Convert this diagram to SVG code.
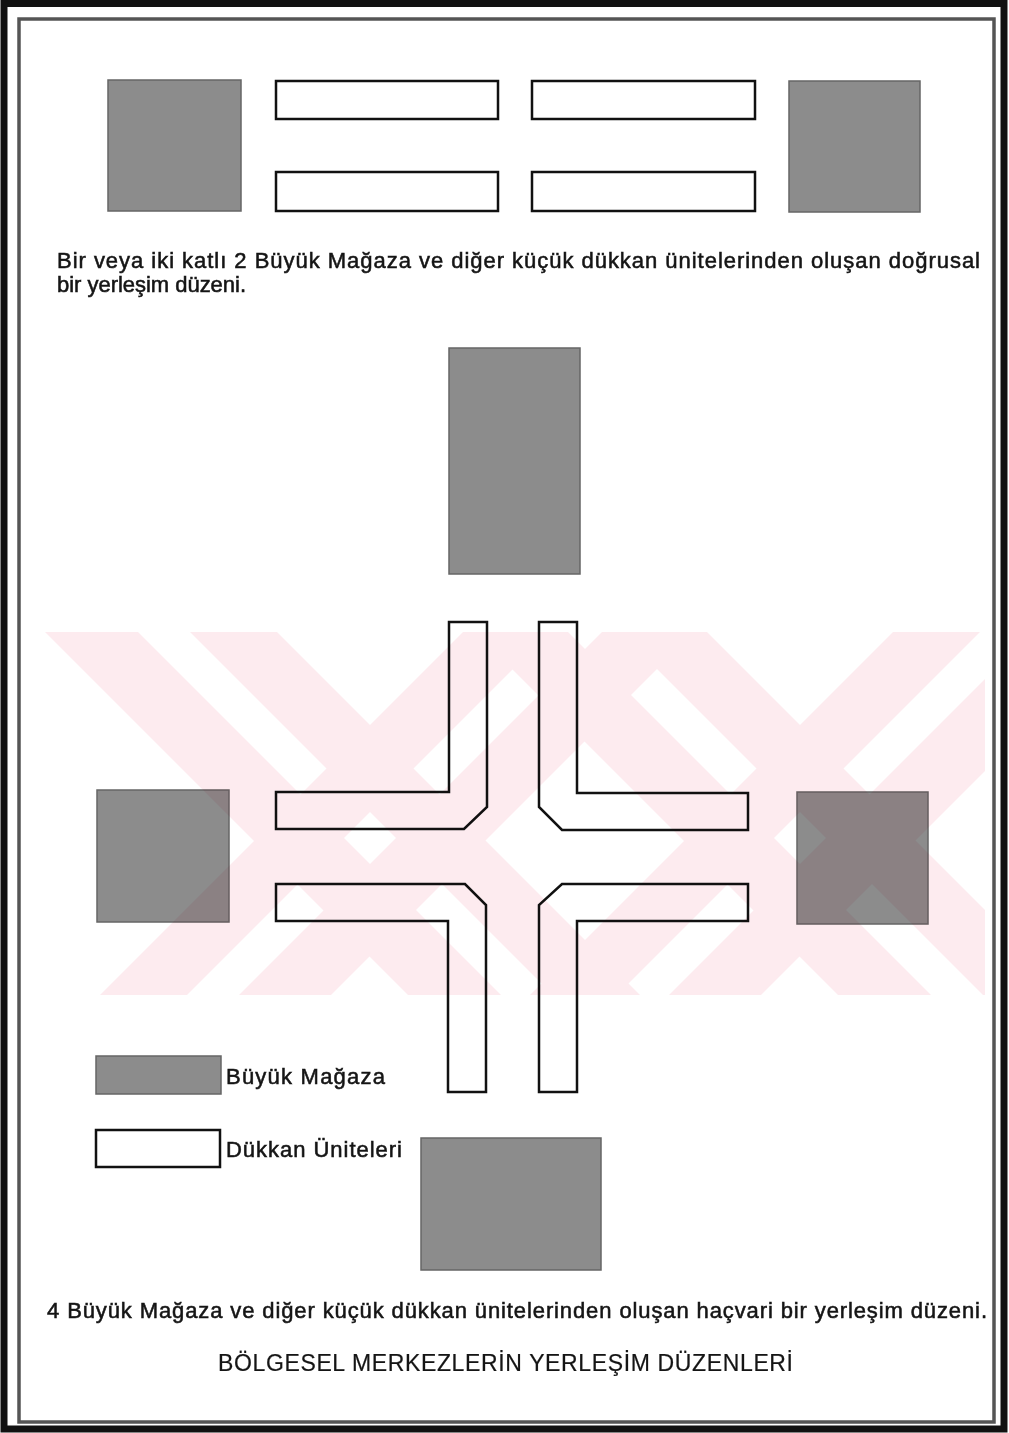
<svg xmlns="http://www.w3.org/2000/svg" width="1009" height="1433" viewBox="0 0 1009 1433">
<style>
.store{fill:#8c8c8c;stroke:#666;stroke-width:1.5}
.shop{fill:#ffffff;stroke:#111;stroke-width:2.5}
.lshop{fill:none;stroke:#111;stroke-width:2.5;stroke-linejoin:miter}
.txt{font-family:"Liberation Sans",Arial,sans-serif;fill:#151515;font-size:22px;stroke:#151515;stroke-width:0.55}
.title{font-size:23px;stroke-width:0.2}
.wm{fill:#fdebef}
</style>
<defs>
<clipPath id="wmclip"><rect x="45" y="632" width="940" height="363"/></clipPath>
</defs>
<rect x="0" y="0" width="1009" height="1433" fill="#ffffff"/>
<g id="frame">
<rect x="4" y="3.5" width="1000" height="1425.5" fill="none" stroke="#111" stroke-width="7"/>
<rect x="19" y="19" width="975" height="1403" fill="none" stroke="#555" stroke-width="3.5"/>
</g>
<g id="linear-layout">
<rect id="store-top-left" class="store" x="108" y="80" width="133" height="131"/>
<rect id="shop-1" class="shop" x="276" y="81" width="222" height="38"/>
<rect id="shop-2" class="shop" x="276" y="172" width="222" height="39"/>
<rect id="shop-3" class="shop" x="532" y="81" width="223" height="38"/>
<rect id="shop-4" class="shop" x="532" y="172" width="223" height="39"/>
<rect id="store-top-right" class="store" x="789" y="81" width="131" height="131"/>
</g>
<g id="caption-1">
<text class="txt" x="57" y="268" textLength="923" lengthAdjust="spacing">Bir veya iki katlı 2 Büyük Mağaza ve diğer küçük dükkan ünitelerinden oluşan doğrusal</text>
<text class="txt" x="57" y="292" textLength="189" lengthAdjust="spacing">bir yerleşim düzeni.</text>
</g>
<g id="cross-layout">
<rect id="store-north" class="store" x="449" y="348" width="131" height="226"/>
<rect id="store-west" class="store" x="97" y="790" width="132" height="132"/>
<rect id="store-east" class="store" x="797" y="792" width="131" height="132"/>
<rect id="store-south" class="store" x="421" y="1138" width="180" height="132"/>
<polygon id="shop-nw" class="lshop" points="449,622 487,622 487,807 464,829 276,829 276,792 449,792"/>
<polygon id="shop-ne" class="lshop" points="539,622 577,622 577,793 748,793 748,830 562,830 539,807"/>
<polygon id="shop-sw" class="lshop" points="276,884 465,884 486,905 486,1092 448,1092 448,921 276,921"/>
<polygon id="shop-se" class="lshop" points="748,884 562,884 539,905 539,1092 577,1092 577,921 748,921"/>
</g>
<g id="legend">
<rect id="legend-store" class="store" x="96" y="1056" width="125" height="38"/>
<text class="txt" x="226" y="1084" textLength="159" lengthAdjust="spacing">Büyük Mağaza</text>
<rect id="legend-shop" class="shop" x="96" y="1130" width="124" height="37"/>
<text class="txt" x="226" y="1157" textLength="176" lengthAdjust="spacing">Dükkan Üniteleri</text>
</g>
<g id="caption-2">
<text class="txt" x="47" y="1318" textLength="940" lengthAdjust="spacing">4 Büyük Mağaza ve diğer küçük dükkan ünitelerinden oluşan haçvari bir yerleşim düzeni.</text>
<text class="txt title" x="218" y="1371" textLength="575" lengthAdjust="spacing">BÖLGESEL MERKEZLERİN YERLEŞİM DÜZENLERİ</text>
</g>
<g id="connectors"/>
<g id="watermark" clip-path="url(#wmclip)" style="mix-blend-mode:multiply">
<polygon class="wm" points="45,632 138,632 501,995 408,995"/>
<polygon class="wm" points="190,632 277,632 640,995 553,995"/>
<polygon class="wm" points="463,632 550,632 187,995 100,995"/>
<polygon class="wm" points="602,632 694,632 331,995 239,995"/>
<polygon class="wm" points="475,632 568,632 931,995 838,995"/>
<polygon class="wm" points="620,632 707,632 1070,995 983,995"/>
<polygon class="wm" points="893,632 980,632 617,995 530,995"/>
<polygon class="wm" points="1032,632 1124,632 761,995 669,995"/>
</g>
</svg>
